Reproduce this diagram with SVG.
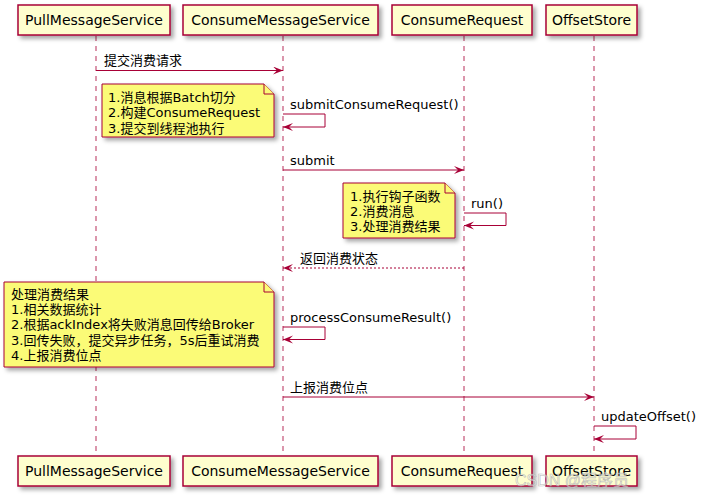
<svg xmlns="http://www.w3.org/2000/svg" width="701" height="500" viewBox="0 0 701 500">
<defs>
<filter id="sh" x="-10%" y="-10%" width="130%" height="140%">
<feDropShadow dx="3" dy="3" stdDeviation="2" flood-color="#000" flood-opacity="0.35"/>
</filter>
<marker id="ah" markerWidth="12" markerHeight="10" refX="10" refY="4" orient="auto" markerUnits="userSpaceOnUse">
<polygon points="0,0 10,4 0,8 4,4" fill="#A80036"/>
</marker>
</defs>
<style>
.box{fill:#FEFECE;stroke:#A80036;stroke-width:1.5;filter:url(#sh)}
.pt{font-family:"DejaVu Sans","Noto Sans CJK SC",sans-serif;font-size:14px;fill:#000;text-anchor:middle}
.life{stroke:#A80036;stroke-opacity:0.55;stroke-width:1.5;stroke-dasharray:5,5}
.msg{stroke:#A80036;stroke-width:1;fill:none}
.dot{stroke-dasharray:2,2}
.lbl{font-family:"DejaVu Sans","Noto Sans CJK SC",sans-serif;font-size:13px;fill:#000}
.note{fill:#FBFB77;stroke:#A80036;stroke-width:1;filter:url(#sh)}
.fold{fill:#FBFB77;stroke:#A80036;stroke-width:1}
</style>
<g id="lifelines">
<line class="life" x1="96" y1="36" x2="96" y2="456"/>
<line class="life" x1="283" y1="36" x2="283" y2="456"/>
<line class="life" x1="464" y1="36" x2="464" y2="456"/>
<line class="life" x1="594" y1="36" x2="594" y2="456"/>
</g>
<g id="PullMessageService">
<rect class="box" x="18" y="5" width="152" height="30"/>
<text class="pt" x="94" y="25">PullMessageService</text>
<rect class="box" x="18" y="456" width="152" height="30"/>
<text class="pt" x="94" y="476">PullMessageService</text>
</g>
<g id="ConsumeMessageService">
<rect class="box" x="183" y="5" width="195" height="30"/>
<text class="pt" x="280.5" y="25">ConsumeMessageService</text>
<rect class="box" x="183" y="456" width="195" height="30"/>
<text class="pt" x="280.5" y="476">ConsumeMessageService</text>
</g>
<g id="ConsumeRequest">
<rect class="box" x="392" y="5" width="140" height="30"/>
<text class="pt" x="462" y="25">ConsumeRequest</text>
<rect class="box" x="392" y="456" width="140" height="30"/>
<text class="pt" x="462" y="476">ConsumeRequest</text>
</g>
<g id="OffsetStore">
<rect class="box" x="546" y="5" width="91" height="30"/>
<text class="pt" x="591.5" y="25">OffsetStore</text>
<rect class="box" x="546" y="456" width="91" height="30"/>
<text class="pt" x="591.5" y="476">OffsetStore</text>
</g>
<g id="note1">
<path class="note" d="M102,84 L264,84 L274,94 L274,137 L102,137 Z"/>
<path class="fold" d="M264,84 L264,94 L274,94"/>
<text class="lbl" x="108" y="102">1.消息根据Batch切分</text>
<text class="lbl" x="108" y="117">2.构建ConsumeRequest</text>
<text class="lbl" x="108" y="133">3.提交到线程池执行</text>
</g>
<g id="note2">
<path class="note" d="M343,183 L445,183 L455,193 L455,238 L343,238 Z"/>
<path class="fold" d="M445,183 L445,193 L455,193"/>
<text class="lbl" x="350" y="201">1.执行钩子函数</text>
<text class="lbl" x="350" y="216">2.消费消息</text>
<text class="lbl" x="350" y="231">3.处理消费结果</text>
</g>
<g id="note3">
<path class="note" d="M4,282 L264,282 L274,292 L274,367 L4,367 Z"/>
<path class="fold" d="M264,282 L264,292 L274,292"/>
<text class="lbl" x="11" y="299">处理消费结果</text>
<text class="lbl" x="11" y="314">1.相关数据统计</text>
<text class="lbl" x="11" y="329">2.根据ackIndex将失败消息回传给Broker</text>
<text class="lbl" x="11" y="345">3.回传失败，提交异步任务，5s后重试消费</text>
<text class="lbl" x="11" y="360">4.上报消费位点</text>
</g>
<g id="connectors">
<line class="msg" x1="96" y1="70.5" x2="283" y2="70.5" marker-end="url(#ah)"/>
<text class="lbl" x="104" y="65">提交消费请求</text>
<polyline class="msg" points="283,114 325,114 325,127 283,127" marker-end="url(#ah)"/>
<text class="lbl" x="290" y="109">submitConsumeRequest()</text>
<line class="msg" x1="283" y1="170" x2="464" y2="170" marker-end="url(#ah)"/>
<text class="lbl" x="290" y="165">submit</text>
<polyline class="msg" points="464,213 506,213 506,225.5 464,225.5" marker-end="url(#ah)"/>
<text class="lbl" x="471" y="208">run()</text>
<line class="msg dot" x1="464" y1="268" x2="283" y2="268" marker-end="url(#ah)"/>
<text class="lbl" x="300" y="263">返回消费状态</text>
<polyline class="msg" points="283,327 325,327 325,339.5 283,339.5" marker-end="url(#ah)"/>
<text class="lbl" x="290" y="322">processConsumeResult()</text>
<line class="msg" x1="283" y1="397" x2="594" y2="397" marker-end="url(#ah)"/>
<text class="lbl" x="290" y="392">上报消费位点</text>
<polyline class="msg" points="594,426 636,426 636,439 594,439" marker-end="url(#ah)"/>
<text class="lbl" x="601" y="421">updateOffset()</text>
</g>
<text x="515" y="486" font-family="Liberation Sans,Noto Sans CJK SC,sans-serif" font-size="16" fill="#ffffff" fill-opacity="0.5" stroke="#aaaaaa" stroke-width="0.6" stroke-opacity="0.8">CSDN @程序员</text>
</svg>
